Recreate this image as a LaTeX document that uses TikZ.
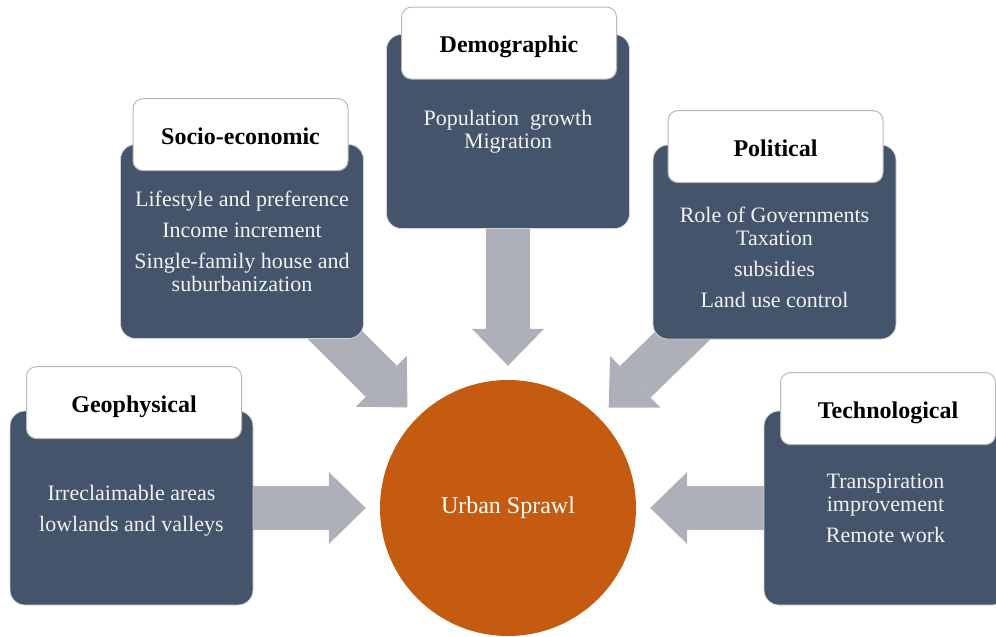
\documentclass[tikz,border=0pt]{standalone}
\usepackage{fontspec}
\setmainfont{Liberation Serif}
\usetikzlibrary{arrows.meta, calc, backgrounds}
\definecolor{slate}{HTML}{44546A}
\definecolor{burnt}{HTML}{C55A11}
\definecolor{steel}{HTML}{ADB0B8}
\newcommand{\bodyfont}{\fontsize{22}{23}\selectfont}
\newcommand{\headfont}{\fontsize{24}{26}\selectfont\bfseries}
\tikzset{
  panel/.style={fill=slate, draw=white!75!slate, line width=0.8pt,
                rounded corners=15pt, minimum width=243pt,
                minimum height=194pt, inner sep=0pt},
  head/.style={fill=white, draw=gray!55, line width=1pt, rounded corners=10pt,
               minimum width=215pt, minimum height=72pt, font=\headfont,
               text height=19pt, text depth=0pt},
  items/.style={text=white!95!black, align=center, font=\bodyfont},
  push/.style={draw=steel, line width=44pt, shorten >=14pt,
               -{Triangle[length=37pt, width=72pt, line width=0pt]}},
}

\begin{document}
\begin{tikzpicture}[x=1pt, y=-1pt]
  \useasboundingbox (0,0) rectangle (996,637);
  % five driver panels around the centre
  \node[panel] (geo) at (131.5,508) {};
  \node[panel] (socio) at (242,241.5) {};
  \node[panel] (demo) at (508,131.5) {};
  \node[panel] (pol) at (774.5,242) {};
  \node[panel] (tech) at (885.5,508) {};
  % headings across the top edge
  \node[head] (geoT) at ([xshift=2.5pt, yshift=8pt]geo.north) {Geophysical};
  \node[head] (socioT) at ([xshift=-1.5pt, yshift=9.5pt]socio.north) {Socio-economic};
  \node[head] (demoT) at ([xshift=1pt, yshift=-9pt]demo.north) {Demographic};
  \node[head] (polT) at ([xshift=1pt, yshift=-2pt]pol.north) {Political};
  \node[head] (techT) at ([xshift=2.5pt, yshift=2pt]tech.north) {Technological};
  % lists of factors
  \node[items] (geoL) at ([yshift=-3pt]geo.center) {Irreclaimable areas\\[8pt]lowlands and valleys};
  \node[items] (socioL) at (socio.center) {Lifestyle and preference\\[8pt]Income increment\\[8pt]Single-family house and\\suburbanization};
  \node[items] (demoL) at (demo.center) {Population\ \ growth\\Migration};
  \node[items] (polL) at ([yshift=-15pt]pol.center) {Role of Governments\\Taxation\\[8pt]subsidies\\[8pt]Land use control};
  \node[items] (techL) at (tech.center) {Transpiration\\improvement\\[8pt]Remote work};
  \node[circle, fill=burnt, minimum size=256pt, inner sep=0pt, text=white,
        font=\fontsize{24}{26}\selectfont] (sprawl) at (508,508) {Urban Sprawl};
  % block arrows, behind the panels
  \begin{pgfonlayer}{background}
    \draw[push] (geo.east) -- (sprawl.west);
    \draw[push] ($(socio.south east)+(-55,-30)$) -- (sprawl.north west);
    \draw[push] (demo.south) -- (sprawl.north);
    \draw[push] ($(pol.south west)+(57,-30)$) -- (sprawl.north east);
    \draw[push] (tech.west) -- (sprawl.east);
  \end{pgfonlayer}
\end{tikzpicture}
\end{document}
